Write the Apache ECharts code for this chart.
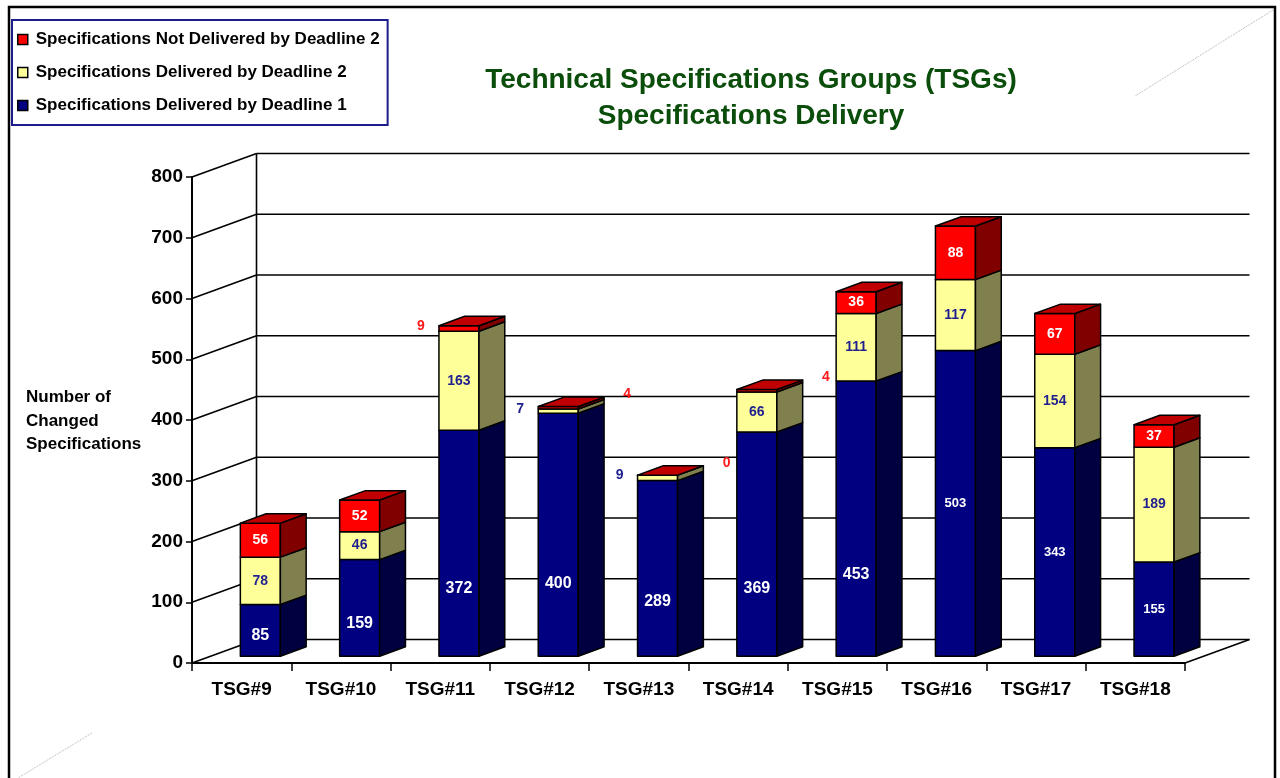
<!DOCTYPE html>
<html>
<head>
<meta charset="utf-8">
<script src="https://cdn.jsdelivr.net/npm/echarts@6/dist/echarts.min.js"></script>
<style>
  html, body { margin: 0; padding: 0; background: #fff; }
  #chart { width: 1280px; height: 778px; }
</style>
</head>
<body>
<div id="chart"></div>
<script>
// ---------- data ----------
const categories = ['TSG#9', 'TSG#10', 'TSG#11', 'TSG#12', 'TSG#13', 'TSG#14', 'TSG#15', 'TSG#16', 'TSG#17', 'TSG#18'];
const deliveredDeadline1 = [85, 159, 372, 400, 289, 369, 453, 503, 343, 155];
const deliveredDeadline2 = [78, 46, 163, 7, 9, 66, 111, 117, 154, 189];
const notDeliveredDeadline2 = [56, 52, 9, 4, 0, 4, 36, 88, 67, 37];
const yTicks = [0, 100, 200, 300, 400, 500, 600, 700, 800];
const seriesNames = [
  'Specifications Delivered by Deadline 1',
  'Specifications Delivered by Deadline 2',
  'Specifications Not Delivered by Deadline 2'
];
const titleLines = ['Technical Specifications Groups (TSGs)', 'Specifications Delivery'];
const yAxisTitle = ['Number of', 'Changed', 'Specifications'];

// ---------- style / layout ----------
const FONT = "'Liberation Sans', Arial, Helvetica, sans-serif";
const DX = 64.5, DY = -23.5;          // full depth of the 3D box
const FRONT = 0.29, DEPTH = 0.40;     // bar position inside the depth
const BAR_W = 0.403;                  // bar width as share of the band
const colors = [
  { front: '#000080', side: '#000040', label: '#ffffff' },
  { front: '#ffff99', side: '#80804f', label: '#1f1f8f' },
  { front: '#ff0000', side: '#800000', label: '#ffffff', top: '#c00000' }
];
const outsideColors = ['#ffffff', '#1f1f8f', '#ff1a1a'];
const LOW_LABEL_COUNT = 7;     // first bars have their blue label placed lower & larger
const RED_LEFT = [2];          // outside red labels drawn to the left

const stackSeries = [deliveredDeadline1, deliveredDeadline2, notDeliveredDeadline2];

function stackBase(k, i) {
  let b = 0;
  for (let j = 0; j < k; j++) b += stackSeries[j][i];
  return b;
}

function barRender(k) {
  return function (params, api) {
    const i = api.value(0), v = api.value(1), base = api.value(2);
    const band = api.size([1, 0])[0];
    const p0 = api.coord([i, base]);
    const p1 = api.coord([i, base + v]);
    const w = band * BAR_W;
    const cx = p0[0] + FRONT * DX;
    const left = cx - w / 2, right = cx + w / 2;
    const yb = p0[1] + FRONT * DY, yt = p1[1] + FRONT * DY;
    const sx = DEPTH * DX, sy = DEPTH * DY;
    const c = colors[k];
    const stroke = { stroke: '#000', lineWidth: 1.5, lineJoin: 'round' };
    const children = [
      { type: 'polygon', shape: { points: [[left, yb], [right, yb], [right, yt], [left, yt]] },
        style: Object.assign({ fill: c.front }, stroke) },
      { type: 'polygon', shape: { points: [[right, yb], [right + sx, yb + sy], [right + sx, yt + sy], [right, yt]] },
        style: Object.assign({ fill: c.side }, stroke) }
    ];
    if (c.top) {
      children.push({ type: 'polygon', shape: { points: [[left, yt], [right, yt], [right + sx, yt + sy], [left + sx, yt + sy]] },
        style: Object.assign({ fill: c.top }, stroke) });
    }
    const h = yb - yt;
    let tx = cx, ty = (yb + yt) / 2, size = 14, color = c.label;
    if (h < 14) {
      size = 14;
      color = outsideColors[k];
      if (k === 1 || RED_LEFT.indexOf(i) >= 0) { tx = left - 18; ty = yt; }
      else { tx = left + 89; ty = yt - 12; }
    } else if (k === 0) {
      if (i < LOW_LABEL_COUNT) { size = 16; ty = yb - (0.27 * h + 7); }
      else { size = 13; }
    }
    children.push({
      type: 'text', z2: 10,
      style: { x: tx, y: ty, text: String(v), fill: color,
               fontFamily: FONT, fontSize: size, fontWeight: 'bold',
               align: 'center', verticalAlign: 'middle' }
    });
    return { type: 'group', children: children };
  };
}

function wallRender(params, api) {
  const cs = params.coordSys;
  const x0 = cs.x, x1 = cs.x + cs.width;
  const v = api.value(1);
  const y = api.coord([0, v])[1];
  const ls = { stroke: '#000', lineWidth: 1.6 };
  const ch = [
    { type: 'line', shape: { x1: x0, y1: y, x2: x0 + DX, y2: y + DY }, style: ls },
    { type: 'line', shape: { x1: x0 + DX, y1: y + DY, x2: x1 + DX, y2: y + DY }, style: ls }
  ];
  if (v === yTicks[0]) {
    const yTop = api.coord([0, yTicks[yTicks.length - 1]])[1];
    ch.push({ type: 'line', shape: { x1: x0 + DX, y1: y + DY, x2: x0 + DX, y2: yTop + DY }, style: ls });
    ch.push({ type: 'line', shape: { x1: x1, y1: y, x2: x1 + DX, y2: y + DY }, style: ls });
  }
  return { type: 'group', children: ch };
}

const chart = echarts.init(document.getElementById('chart'), null, { renderer: 'canvas' });

const option = {
  backgroundColor: '#ffffff',
  animation: false,
  title: {
    text: titleLines.join('\n'),
    left: 751, top: 62, padding: 0,
    textAlign: 'center',
    textStyle: { fontFamily: FONT, fontSize: 28, fontWeight: 'bold', color: '#0b4d0b', lineHeight: 36 }
  },
  legend: {
    data: [seriesNames[2], seriesNames[1], seriesNames[0]],
    orient: 'vertical',
    left: 12, top: 20,
    padding: [11, 8, 11, 5],
    itemGap: 16,
    itemWidth: 16, itemHeight: 10,
    icon: 'path://M0,0L10,0L10,10L0,10Z',
    itemStyle: { borderColor: '#000', borderWidth: 1.5 },
    borderColor: '#1c1c8c', borderWidth: 2,
    textStyle: { fontFamily: FONT, fontSize: 17, fontWeight: 'bold', color: '#000' },
    selectedMode: false
  },
  grid: { left: 192, top: 177, width: 993, height: 486, containLabel: false },
  xAxis: {
    type: 'category',
    data: categories,
    axisLine: { show: true, lineStyle: { color: '#000', width: 2 } },
    axisTick: { show: true, length: 8, lineStyle: { color: '#000', width: 1.5 } },
    axisLabel: { fontFamily: FONT, fontSize: 19, fontWeight: 'bold', color: '#000', margin: 17 },
    splitLine: { show: false }
  },
  yAxis: {
    type: 'value', min: 0, max: 800, interval: 100,
    axisLine: { show: true, lineStyle: { color: '#000', width: 2 } },
    axisTick: { show: true, length: 6, lineStyle: { color: '#000', width: 1.5 } },
    axisLabel: { fontFamily: FONT, fontSize: 19, fontWeight: 'bold', color: '#000', margin: 9 },
    splitLine: { show: false }
  },
  graphic: [
    { type: 'rect', shape: { x: 9, y: 7, width: 1266, height: 800 },
      style: { fill: 'none', stroke: '#000', lineWidth: 2.5 }, silent: true },
    { type: 'line', shape: { x1: 1273, y1: 10, x2: 1135, y2: 96 },
      style: { stroke: '#c4c4c4', lineWidth: 1, lineDash: [2, 1] }, silent: true },
    { type: 'line', shape: { x1: 92, y1: 733, x2: 18, y2: 778 },
      style: { stroke: '#c4c4c4', lineWidth: 1, lineDash: [2, 1] }, silent: true },
    { type: 'text', left: 26, top: 386,
      style: { text: yAxisTitle.join('\n'), fontFamily: FONT, fontSize: 17, fontWeight: 'bold', fill: '#000', lineHeight: 23.5 } }
  ],
  series: [
    {
      type: 'custom', name: '__walls', silent: true, z: 1,
      renderItem: wallRender,
      data: yTicks.map(v => [0, v]),
      encode: { x: 0, y: 1 }
    }
  ].concat(stackSeries.map((arr, k) => ({
    type: 'custom',
    name: seriesNames[k],
    z: 3,
    itemStyle: { color: colors[k].front },
    renderItem: barRender(k),
    encode: { x: 0, y: 1 },
    data: arr.map((v, i) => [i, v, stackBase(k, i)])
  })))
};

chart.setOption(option);
</script>
</body>
</html>
